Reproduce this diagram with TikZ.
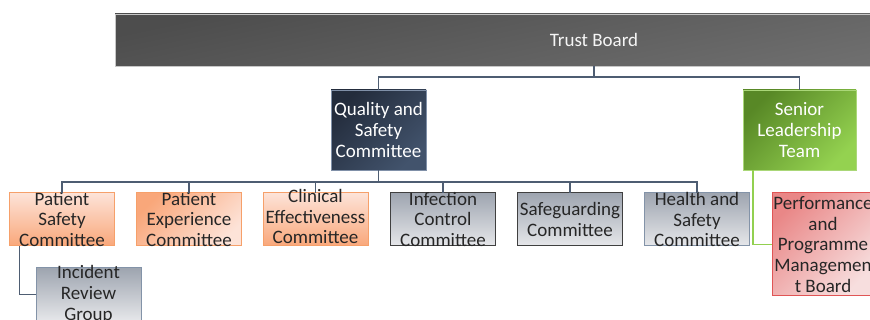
\documentclass[tikz,border=0pt]{standalone}
\usepackage{fontspec}
\setmainfont{Carlito}
\definecolor{linkc}{HTML}{4E5D72}
\definecolor{greenln}{HTML}{92D050}
\definecolor{darktxt}{HTML}{262626}
\definecolor{orlight}{HTML}{FDE3D8}
\definecolor{ordeep}{HTML}{F9A77A}
\definecolor{orline}{HTML}{F6A06A}
\definecolor{greytop}{HTML}{9EA5B0}
\definecolor{greybot}{HTML}{E6E7EA}
\definecolor{greyline}{HTML}{404040}
\definecolor{slateline}{HTML}{8393A8}
\begin{document}
\begin{tikzpicture}[x=1pt,y=-1pt,
  every node/.style={inner sep=0pt, outer sep=0pt},
  boxbase/.style={draw, line width=1pt, minimum width=105pt, minimum height=53pt},
  orangedown/.style={boxbase, draw=orline, top color=orlight, bottom color=ordeep},
  orangeup/.style={boxbase, draw=orline, left color=ordeep, right color=orlight, shading angle=45},
  greydark/.style={boxbase, draw=greyline, top color=greytop, bottom color=greybot},
  greyblue/.style={boxbase, draw=slateline, top color=greytop, bottom color=greybot},
  lbl/.style={align=center, text=darktxt, font=\fontsize{19}{20.8}\selectfont},
  lblw/.style={lbl, text=white},
  link/.style={draw=linkc, line width=1.8pt},
  glink/.style={draw=greenln, line width=1.8pt}
]
\clip (0,0) rectangle (870,320);
\fill[white] (0,0) rectangle (870,320);

% top level
\node[draw=black!22, line width=0.8pt, minimum width=958pt, minimum height=52pt,
      left color={rgb,255:red,77;green,77;blue,77}, right color={rgb,255:red,116;green,116;blue,116},
      shading angle=12] (tb) at (594,40) {};
\node[lblw, text=black!4] (tb-t) at (594,40) {Trust Board};

% second level
\node[draw={rgb,255:red,128;green,144;blue,168}, line width=0.8pt, minimum width=95pt, minimum height=80pt,
      left color={rgb,255:red,35;green,44;blue,60}, right color={rgb,255:red,66;green,83;blue,108},
      shading angle=45] (qsc) at (378.5,130) {};
\node[lblw] (qsc-t) at (qsc) {Quality and\\Safety\\Committee};

\node[draw={rgb,255:red,170;green,215;blue,120}, line width=0.8pt, minimum width=113pt, minimum height=80pt,
      left color={rgb,255:red,88;green,136;blue,38}, right color={rgb,255:red,148;green,210;blue,80},
      shading angle=45] (slt) at (799.5,130) {};
\node[lblw] (slt-t) at (slt) {Senior\\Leadership\\Team};

% committees
\node[orangedown] (psc) at (62,219.5) {};
\node[lbl] (psc-t) at (psc) {Patient\\Safety\\Committee};
\node[orangeup] (pec) at (189,219.5) {};
\node[lbl] (pec-t) at (pec) {Patient\\Experience\\Committee};
\node[orangedown] (cec) at (315.5,219.5) {};
\node[lbl] (cec-t) at ([yshift=3pt]cec.center) {Clinical\\Effectiveness\\Committee};
\node[greydark] (icc) at (443,219.5) {};
\node[lbl] (icc-t) at (icc) {Infection\\Control\\Committee};
\node[greydark] (sgc) at (570,219.5) {};
\node[lbl] (sgc-t) at (sgc) {Safeguarding\\Committee};
\node[greyblue] (hsc) at (697,219.5) {};
\node[lbl] (hsc-t) at (hsc) {Health and\\Safety\\Committee};

% third level
\node[greyblue] (irg) at (88.5,294.5) {};
\node[lbl] (irg-t) at (irg) {Incident\\Review\\Group};
\node[draw={rgb,255:red,224;green,85;blue,85}, line width=1pt, minimum width=102pt, minimum height=103pt,
      left color={rgb,255:red,233;green,135;blue,135}, right color={rgb,255:red,247;green,222;blue,222},
      shading angle=45] (ppb) at (823,244.5) {};
\node[lbl] (ppb-t) at (ppb) {Performance\\and\\Programme\\Managemen\\t Board};

% connectors
\draw[link] (tb.south) -- ++(0,11) -| (qsc.north);
\draw[link] (tb.south) -- ++(0,11) -| (slt.north);
\foreach \n in {psc,pec,cec,icc,sgc,hsc}
  \draw[link] (qsc.south) -- ++(0,12) -| (\n.north);
\draw[link] ([xshift=10pt]psc.south west) |- (irg.west);
\draw[glink] ([xshift=10pt]slt.south west) |- (ppb.west);
\end{tikzpicture}
\end{document}
